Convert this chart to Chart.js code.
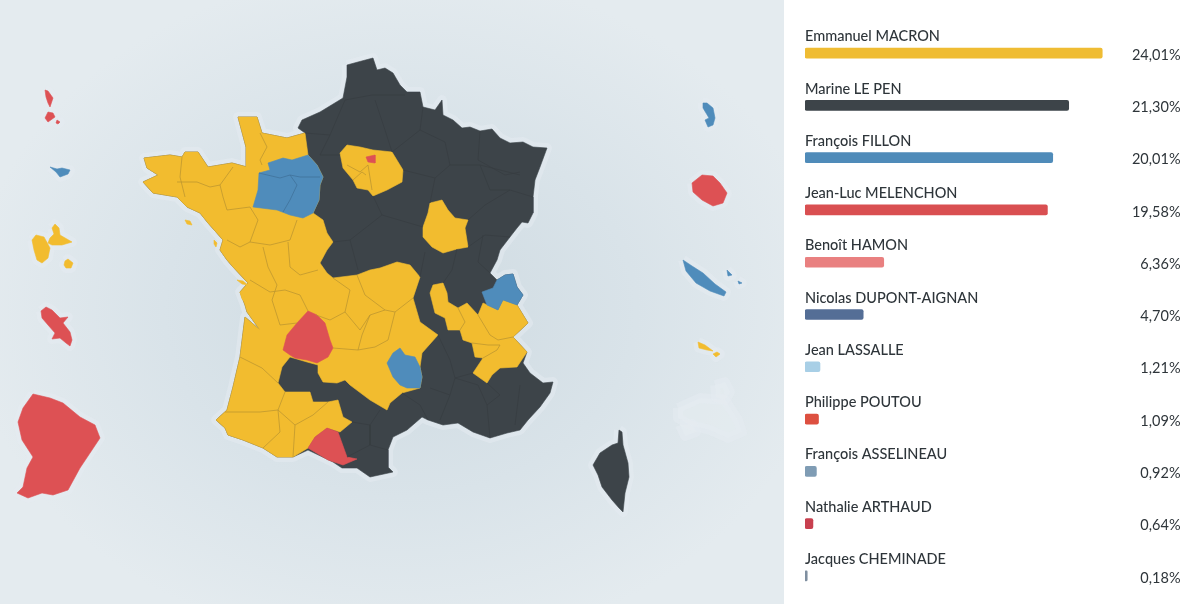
<!DOCTYPE html>
<html lang="fr">
<head>
<meta charset="utf-8">
<title>Présidentielle 2017</title>
<script src="https://cdn.jsdelivr.net/npm/chart.js@4"></script>
<style>
  html, body { margin: 0; padding: 0; width: 1200px; height: 604px; overflow: hidden; }
  body { background: #fff; position: relative; }
  .carte { position: absolute; left: 0; top: 0; width: 784px; height: 604px;
           background: radial-gradient(ellipse 430px 340px at 400px 310px, #cedae1 0%, #d9e3e9 55%, #e4ebef 100%); }
  .barres { position: absolute; left: 784px; top: 0; width: 416px; height: 604px; background: #fff; }
</style>
</head>
<body>
<div class="carte"><canvas id="carte" width="784" height="604"></canvas></div>
<div class="barres"><canvas id="barres" width="416" height="604"></canvas></div>
<script>
// scores
const candidats = ['Emmanuel MACRON', 'Marine LE PEN', 'François FILLON', 'Jean-Luc MELENCHON', 'Benoît HAMON',
  'Nicolas DUPONT-AIGNAN', 'Jean LASSALLE', 'Philippe POUTOU', 'François ASSELINEAU', 'Nathalie ARTHAUD', 'Jacques CHEMINADE'];
const scores = [24.01, 21.30, 20.01, 19.58, 6.36, 4.70, 1.21, 1.09, 0.92, 0.64, 0.18];
const couleursBarres = ['#efbc33', '#3d4449', '#4f8bb9', '#d94f51', '#e98080', '#546e96', '#a8cfe6', '#dd5040', '#7f9cb4', '#c8404f', '#7f8fa0'];

const JAUNE = '#f2bc2f', NOIR = '#3d4449', BLEU = '#4f8cbb', ROUGE = '#dd5154';

// contours de la carte, relevés à l'oeil sur l'image : [x, y]
const france = [[347,65],[358,62],[373,58],[377,70],[385,68],[393,73],[400,85],[407,92],[420,92],[423,107],[435,110],[442,100],[443,115],[453,120],[462,128],[470,127],[480,131],[492,129],[500,138],[510,143],[523,142],[533,147],[547,148],[540,167],[535,180],[533,197],[533,213],[528,223],[522,222],[517,228],[510,237],[500,250],[497,260],[490,273],[497,280],[505,275],[513,274],[517,287],[523,295],[517,305],[528,323],[513,337],[527,352],[523,363],[530,373],[543,383],[553,382],[550,393],[540,407],[528,420],[520,430],[507,433],[490,438],[473,432],[458,423],[443,425],[428,420],[422,417],[407,430],[393,437],[388,450],[388,467],[393,472],[370,477],[357,468],[342,468],[333,462],[308,450],[293,457],[277,457],[263,448],[243,440],[228,435],[225,428],[216,420],[227,410],[233,387],[240,357],[245,317],[260,330],[247,312],[245,305],[240,292],[248,283],[233,267],[227,260],[220,250],[223,240],[208,223],[200,213],[187,207],[177,197],[153,193],[143,182],[158,175],[147,168],[144,158],[170,155],[182,157],[185,152],[198,152],[208,167],[232,163],[247,167],[246,147],[238,117],[257,117],[262,133],[287,138],[305,133],[298,128],[302,120],[320,112],[343,98],[347,77]];
const ouestJaune = [[305,133],[308,155],[317,165],[323,177],[320,185],[319,200],[313,213],[323,220],[327,233],[333,242],[327,250],[320,263],[327,273],[333,278],[357,275],[370,270],[380,268],[397,262],[410,265],[420,277],[413,298],[420,322],[438,335],[422,353],[420,367],[422,377],[420,388],[402,393],[390,403],[387,410],[370,400],[350,385],[345,380],[337,383],[323,382],[318,373],[318,365],[307,362],[290,357],[282,367],[278,383],[285,392],[310,392],[313,402],[328,402],[338,400],[343,417],[352,422],[340,432],[327,428],[315,437],[308,448],[293,457],[277,457],[263,448],[243,440],[228,435],[225,428],[216,420],[227,410],[233,387],[240,357],[245,317],[260,330],[247,312],[245,305],[240,292],[248,283],[233,267],[227,260],[220,250],[223,240],[208,223],[200,213],[187,207],[177,197],[153,193],[143,182],[158,175],[147,168],[144,158],[170,155],[182,157],[185,152],[198,152],[208,167],[232,163],[247,167],[246,147],[238,117],[257,117],[262,133],[287,138]];
const ileDeFrance = [[347,145],[360,147],[373,150],[392,152],[403,170],[402,182],[387,190],[373,196],[368,190],[357,188],[353,180],[343,168],[340,153]];
const nievre = [[430,203],[442,200],[448,210],[455,218],[468,220],[465,228],[468,247],[457,249],[443,253],[432,247],[423,237],[423,227],[428,213]];
const rhoneAlpes = [[433,285],[443,283],[447,293],[448,302],[458,308],[467,303],[478,315],[483,303],[498,310],[503,300],[517,305],[528,323],[513,337],[527,352],[517,367],[500,368],[492,375],[487,383],[473,373],[483,358],[475,357],[472,343],[463,340],[460,330],[448,330],[445,318],[435,313],[430,293]];
const ouestBleu = [[268,163],[283,158],[292,160],[308,155],[317,165],[323,177],[320,185],[319,200],[313,213],[303,218],[290,215],[277,210],[253,207],[258,190],[259,173],[270,170]];
const lozere = [[400,348],[405,355],[415,357],[420,367],[422,377],[420,388],[407,388],[400,385],[393,377],[387,363],[393,353]];
const hauteSavoie = [[482,292],[493,288],[497,280],[505,275],[513,274],[517,287],[523,295],[517,305],[503,300],[498,310],[487,305]];
const dordogne = [[308,311],[317,315],[325,323],[330,340],[333,348],[328,357],[317,363],[307,360],[295,358],[290,355],[283,350],[287,335],[297,323]];
const aude = [[308,448],[315,437],[327,428],[338,432],[347,457],[357,459],[343,465],[328,460]];
const paris = [[366,157],[375,155],[375,163],[368,162]];
const ileRe = [[237,280],[243,281],[248,285],[242,284]];
const oleron = [[240,292],[244,295],[245,302],[242,299]];
const noirmoutier = [[214,240],[217,243],[216,247],[214,244]];
const belleIle = [[185,220],[190,221],[192,225],[187,224]];
const corse = [[619,430],[622,432],[623,445],[628,463],[629,477],[625,493],[623,512],[619,508],[612,500],[602,487],[598,475],[593,465],[600,453],[612,445],[618,443]];
const guyane = [[33,394],[50,398],[63,403],[80,417],[95,425],[100,438],[90,453],[80,468],[68,490],[53,495],[42,493],[28,498],[17,493],[23,487],[27,468],[33,457],[22,440],[18,422],[23,408]];
const martinique = [[41,311],[46,307],[52,310],[60,318],[68,317],[63,323],[70,332],[72,340],[70,346],[66,343],[60,338],[52,339],[55,333],[48,325],[42,318]];
const basseTerre = [[32,240],[36,235],[44,237],[50,248],[48,258],[42,263],[37,260],[34,250]];
const grandeTerre = [[52,228],[55,224],[59,228],[60,235],[72,242],[62,245],[52,245],[48,243],[50,238],[54,234]];
const marieGalante = [[65,261],[68,259],[73,263],[71,268],[66,268],[64,265]];
const miquelon = [[45,90],[48,91],[53,98],[50,107],[48,103],[46,97]];
const langlade = [[48,112],[53,113],[55,117],[48,122],[45,118]];
const saintPierre = [[57,120],[60,122],[58,124],[56,123]];
const wallis = [[50,167],[57,169],[62,168],[70,170],[68,174],[60,177],[56,172]];
const mayotte = [[703,103],[707,103],[713,108],[715,118],[713,125],[708,127],[705,120],[709,118],[703,108]];
const reunion = [[692,183],[702,175],[713,176],[720,183],[727,193],[723,203],[713,206],[702,200],[693,192]];
const caledonie = [[683,260],[692,266],[703,273],[715,284],[726,292],[724,296],[710,291],[696,283],[686,271]];
const lifou = [[727,270],[732,275],[728,276]];
const mare = [[738,281],[742,283],[739,284]];
const tahiti = [[698,342],[705,345],[713,351],[707,350],[699,348]];
const moorea = [[713,354],[717,352],[720,354],[716,357]];
const taaf = [[678,408],[700,398],[725,400],[738,420],[742,432],[728,438],[710,430],[690,425],[678,418]];
const taafNord = [[715,385],[725,382],[730,392],[725,400],[716,397]];
const taafSud = [[680,425],[692,424],[696,432],[685,436]];

const territoires = [
  [france, NOIR], [ouestJaune, JAUNE], [ileDeFrance, JAUNE], [nievre, JAUNE], [rhoneAlpes, JAUNE],
  [ouestBleu, BLEU], [lozere, BLEU], [hauteSavoie, BLEU], [dordogne, ROUGE], [aude, ROUGE], [paris, ROUGE],
  [ileRe, JAUNE], [oleron, JAUNE], [noirmoutier, JAUNE], [belleIle, JAUNE],
  [corse, NOIR], [guyane, ROUGE], [martinique, ROUGE], [basseTerre, JAUNE], [grandeTerre, JAUNE], [marieGalante, JAUNE],
  [miquelon, ROUGE], [langlade, ROUGE], [saintPierre, ROUGE], [wallis, BLEU], [mayotte, BLEU], [reunion, ROUGE],
  [caledonie, BLEU], [lifou, BLEU], [mare, BLEU], [tahiti, JAUNE], [moorea, JAUNE]
];
const halos = [france, corse, guyane, martinique, basseTerre, grandeTerre, marieGalante, miquelon, langlade, saintPierre,
  wallis, mayotte, reunion, caledonie, lifou, mare, tahiti, moorea, taaf, taafNord, taafSud];

// limites de départements
const limitesJaunes = [
  [[182,157],[180,177],[185,197]], [[177,182],[197,182],[210,187],[220,185],[233,167]], [[220,185],[223,197],[227,210],[250,207]],
  [[250,207],[258,220],[250,242],[240,247],[227,240]], [[250,242],[270,245],[290,240],[297,220]], [[263,247],[268,267],[277,285],[272,300]],
  [[288,242],[290,267],[300,275],[318,270]], [[260,133],[267,147],[260,160],[262,165]], [[250,280],[270,292],[285,290],[300,295],[308,311]],
  [[272,300],[280,325],[297,323]], [[316,315],[330,320],[345,312],[350,290],[333,278]], [[345,312],[360,330],[370,315],[385,310],[395,312]],
  [[357,275],[365,295],[385,310]], [[395,312],[413,298]], [[370,315],[362,335],[358,350],[333,348]], [[358,350],[375,347],[388,340],[395,312]],
  [[240,357],[262,368],[278,383]], [[225,412],[260,412],[278,410],[285,392]], [[278,410],[280,432],[263,448]], [[278,410],[295,425],[313,415],[328,402]],
  [[295,425],[293,457]], [[478,315],[490,335],[498,340],[513,337]], [[472,343],[488,345],[500,345],[497,350],[483,358]], [[458,308],[465,322],[460,330]],
  [[347,165],[360,172],[368,165],[372,190]], [[353,180],[362,172],[366,175]]
];
const limitesBleues = [[[259,173],[280,178],[290,175],[300,177],[320,177]], [[290,175],[297,185],[290,200],[283,212]]];
const limitesNoires = [
  [[345,100],[372,95],[405,95]], [[305,133],[330,135],[345,100]], [[330,135],[320,155],[340,155]], [[375,100],[385,130],[392,152]], [[423,107],[420,130],[445,142],[450,165]],
  [[392,152],[420,130]], [[403,170],[435,178],[450,165],[480,165],[520,175]], [[480,131],[478,160],[505,175],[520,172]], [[480,165],[490,190],[510,190],[533,197]],
  [[435,178],[430,203]], [[468,220],[485,205],[510,190]], [[468,247],[485,235],[510,237]], [[483,235],[478,262],[490,273]], [[457,249],[452,270],[443,283]],
  [[425,252],[420,277]], [[373,196],[382,215],[423,227]], [[382,215],[350,240],[333,242]], [[350,240],[358,270]], [[438,335],[450,360],[455,378],[473,373]],
  [[430,388],[450,395],[455,378],[478,385],[487,405],[500,395],[487,383]], [[450,395],[440,420]], [[487,405],[490,438]], [[402,393],[420,405],[428,420]],
  [[520,385],[515,425]], [[352,422],[370,425],[380,410]], [[370,425],[370,445],[388,450]], [[347,457],[370,445]]
];

function enPoints(contour) { return contour.map(p => ({ x: p[0], y: p[1] })); }
function ferme(contour) { return enPoints(contour.concat([contour[0]])); }

const jeuxCarte = [];
halos.forEach(c => jeuxCarte.push({ data: ferme(c), showLine: true, fill: 'shape', backgroundColor: 'rgba(230,236,241,.55)',
  borderColor: 'rgba(230,236,241,.5)', borderWidth: 10, pointRadius: 0, tension: 0, borderJoinStyle: 'round' }));
territoires.forEach(t => jeuxCarte.push({ data: ferme(t[0]), showLine: true, fill: 'shape', backgroundColor: t[1],
  borderColor: t[1], borderWidth: 0.6, pointRadius: 0, tension: 0, borderJoinStyle: 'round' }));
function ajouteLimites(liste, couleur) {
  liste.forEach(l => jeuxCarte.push({ data: enPoints(l), showLine: true, fill: false, borderColor: couleur,
    borderWidth: 0.7, pointRadius: 0, tension: 0 }));
}
ajouteLimites(limitesJaunes, '#b8922f');
ajouteLimites(limitesBleues, '#3d6f96');
ajouteLimites(limitesNoires, '#363c41');
// Chart.js dessine le premier jeu au-dessus : on inverse
jeuxCarte.reverse();

new Chart(document.getElementById('carte'), {
  type: 'scatter',
  data: { datasets: jeuxCarte },
  options: {
    responsive: false,
    animation: false,
    events: [],
    layout: { padding: 0 },
    plugins: { legend: { display: false }, tooltip: { enabled: false } },
    scales: {
      x: { type: 'linear', min: 0, max: 784, display: false },
      y: { type: 'linear', min: 0, max: 604, reverse: true, display: false }
    }
  }
});

// noms au-dessus des barres, pourcentages à droite
const etiquettes = {
  id: 'etiquettes',
  afterDatasetsDraw(chart) {
    const ctx = chart.ctx;
    const meta = chart.getDatasetMeta(0);
    ctx.save();
    ctx.fillStyle = '#2e353a';
    ctx.textBaseline = 'middle';
    meta.data.forEach((barre, i) => {
      ctx.font = '500 14.5px Lato';
      ctx.textAlign = 'left';
      ctx.fillText(candidats[i], chart.chartArea.left, barre.y - 16.5);
      ctx.font = '400 14.5px Lato';
      ctx.textAlign = 'right';
      ctx.fillText(scores[i].toFixed(2).replace('.', ',') + '%', 396.5, barre.y + 2);
    });
    ctx.restore();
  }
};

new Chart(document.getElementById('barres'), {
  type: 'bar',
  data: {
    labels: candidats,
    datasets: [{ data: scores, backgroundColor: couleursBarres, barThickness: 10, borderRadius: 2, borderSkipped: false }]
  },
  options: {
    indexAxis: 'y',
    responsive: false,
    animation: false,
    events: [],
    layout: { padding: { left: 21, right: 23.6, top: 27, bottom: 2 } },
    plugins: { legend: { display: false }, tooltip: { enabled: false } },
    scales: {
      x: { min: 0, max: 30, display: false },
      y: { display: false }
    }
  },
  plugins: [etiquettes]
});
</script>
</body>
</html>
